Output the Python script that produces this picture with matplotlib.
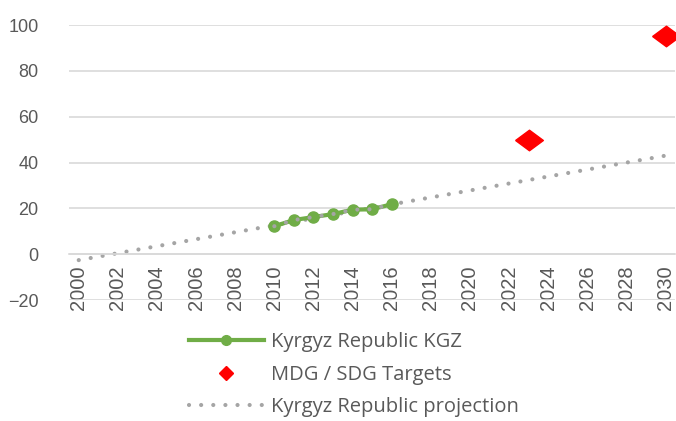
import matplotlib
matplotlib.use('Agg')
import matplotlib.pyplot as plt
from matplotlib.lines import Line2D
from matplotlib import font_manager

# data
kgz_years = [2010, 2011, 2012, 2013, 2014, 2015, 2016]
kgz_vals = [12.2, 14.9, 16.2, 17.5, 19.4, 19.6, 21.8]
target_years = [2023, 2030]
target_vals = [50, 95]
proj_years = [2000, 2030]
proj_vals = [-2.6, 43.0]
tick_years = list(range(2000, 2031, 2))
y_ticks = [-20, 0, 20, 40, 60, 80, 100]

GREEN = '#70AD47'
GREY = '#A5A5A5'
TXT = '#595959'
GRID = '#D9D9D9'

names = set(f.name for f in font_manager.fontManager.ttflist)
narrow = 'Liberation Sans Narrow' if 'Liberation Sans Narrow' in names else 'Liberation Sans'

fig = plt.figure(figsize=(6.76, 4.21), dpi=100)
ax = fig.add_axes([0.102, 0.2874, 0.897, 0.6532])

ax.set_xlim(1999.5, 2030.5)
ax.set_ylim(-20, 100)
ax.set_yticks(y_ticks)
ax.grid(axis='y', color=GRID, lw=1.2)
ax.set_axisbelow(True)
for s in ['top', 'right', 'left']:
    ax.spines[s].set_visible(False)
ax.spines['bottom'].set_position(('data', 0))
ax.spines['bottom'].set_color(GRID)
ax.spines['bottom'].set_linewidth(1.2)
ax.tick_params(axis='y', length=0, pad=22, labelsize=13, labelcolor=TXT)
ax.tick_params(axis='x', length=0, pad=8, labelcolor=TXT)
ax.set_xticks(tick_years)
ax.set_xticklabels([str(y) for y in tick_years], rotation=90, fontsize=14.5,
                   family=narrow, va='top')
for lab in ax.get_yticklabels():
    lab.set_family('Liberation Sans')

dots = (0, (0.01, 2.9))
# projection (dotted)
ax.plot(proj_years, proj_vals, color=GREY, lw=3, linestyle=dots,
        dash_capstyle='round', zorder=2)
# observed series
ax.plot(kgz_years, kgz_vals, color=GREEN, lw=3, marker='o', ms=8,
        zorder=3)
ax.plot(kgz_years, kgz_vals, color=GREY, lw=3, linestyle=dots,
        dash_capstyle='round', zorder=4)
# targets
diamond = [(-1.35, 0), (0, 1), (1.35, 0), (0, -1), (-1.35, 0)]
ax.plot(target_years, target_vals, linestyle='none', marker=diamond, ms=20,
        color='#FF0000', zorder=5)

handles = [
    Line2D([], [], color=GREEN, lw=3, marker='o', ms=7),
    Line2D([], [], linestyle='none', marker='D', ms=7, color='#FF0000'),
    Line2D([], [], color=GREY, lw=3, linestyle=dots, dash_capstyle='round'),
]
labels = ['Kyrgyz Republic KGZ', 'MDG / SDG Targets', 'Kyrgyz Republic projection']
leg = fig.legend(handles, labels, loc='upper left', bbox_to_anchor=(0.268, 0.23),
                 frameon=False, fontsize=14.5, labelcolor=TXT, handlelength=3.7,
                 handletextpad=0.35, labelspacing=0.62, borderaxespad=0)
for t in leg.get_texts():
    t.set_family('Open Sans')

fig.savefig('out.png', dpi=100)
